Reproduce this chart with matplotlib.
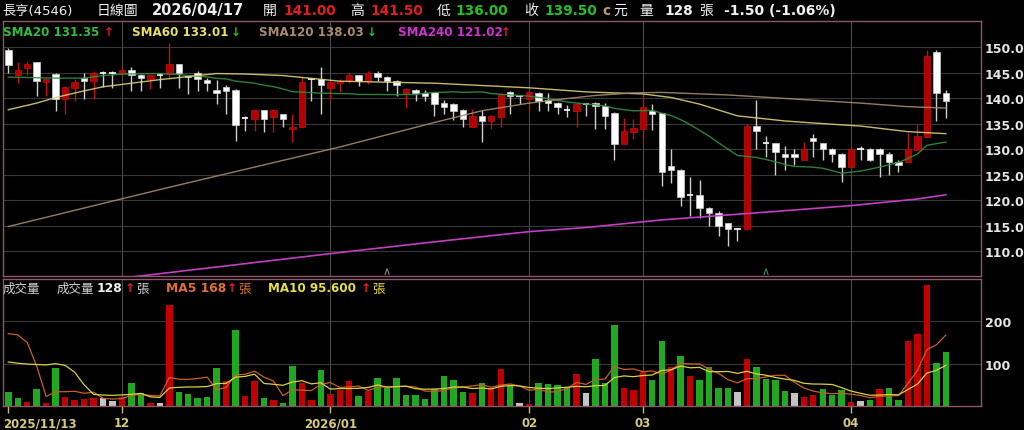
import matplotlib
matplotlib.use("Agg")
import matplotlib.pyplot as plt
import matplotlib.transforms as mtransforms
import numpy as np
import pandas as pd

plt.rcParams['font.family'] = ['DejaVu Sans', 'Noto Sans CJK TC']

# ---------------- data ----------------
opens = [149.5,144.5,145.9,147.0,143.2,144.7,139.9,141.9,144.0,143.4,
         145.0,145.0,144.8,145.5,144.5,143.8,144.6,144.7,146.7,144.3,
         145.0,143.5,141.6,142.1,141.6,136.0,135.8,137.6,136.2,136.8,
         133.9,134.4,143.8,143.8,141.9,143.0,143.4,144.5,143.4,145.0,
         144.1,143.4,140.9,141.6,140.9,141.1,139.0,138.9,137.6,134.4,
         136.5,135.4,136.3,141.1,140.4,139.9,140.9,139.6,139.0,137.6,
         137.5,138.9,139.0,138.5,137.0,131.0,133.4,133.9,137.5,137.0,
         126.6,125.9,121.0,121.0,118.5,117.5,115.4,114.4,114.4,134.5,
         131.2,131.1,129.0,129.0,127.9,132.1,131.1,130.0,129.0,126.5,
         130.0,130.0,130.0,129.0,127.5,127.4,129.8,132.4,149.0,141.0]
highs = [149.8,147.0,147.1,147.0,144.0,145.0,142.3,143.8,145.0,145.2,
         145.2,145.3,145.8,146.1,144.8,144.8,145.0,150.8,146.7,144.5,
         145.2,144.0,143.6,142.5,141.8,136.5,137.6,137.6,137.8,136.8,
         136.8,144.1,144.0,146.0,143.3,143.8,145.0,144.6,145.2,145.2,
         144.3,143.6,142.0,141.8,141.6,141.2,139.6,139.0,137.8,137.9,
         137.6,136.7,141.0,141.3,140.6,141.3,141.1,140.9,139.2,138.7,
         139.1,139.0,139.2,139.0,137.2,136.1,135.9,140.5,138.8,137.1,
         130.0,126.0,124.6,123.9,118.6,117.8,115.5,114.5,134.9,139.6,
         132.5,131.2,130.5,130.0,131.4,132.9,131.2,130.2,129.2,130.1,
         130.5,130.2,130.2,129.4,127.9,133.1,134.9,149.5,149.5,141.5]
lows = [145.0,143.0,144.5,140.4,140.4,137.5,136.8,139.4,139.9,139.9,
        142.1,141.9,144.6,141.4,141.4,141.7,141.9,143.8,141.9,140.7,
        141.4,141.4,138.8,136.8,131.6,133.5,133.5,133.3,133.3,134.4,
        131.4,134.4,139.4,136.8,139.9,141.1,143.0,142.3,142.8,143.3,
        141.4,140.4,138.1,139.4,139.4,136.4,136.8,135.6,134.3,134.4,
        131.4,133.9,134.4,136.8,138.8,137.5,137.5,137.5,136.8,136.3,
        134.4,136.4,133.9,133.9,127.9,131.0,132.0,131.6,133.7,122.8,
        123.3,118.9,116.9,116.5,115.0,112.9,111.0,111.9,114.4,130.0,
        128.4,125.0,125.9,126.9,127.9,128.4,127.9,127.4,123.5,126.3,
        127.9,127.7,124.6,125.0,125.4,127.4,129.8,132.4,135.4,136.0]
closes = [146.5,145.5,146.6,143.4,143.8,139.9,142.1,143.1,143.4,145.0,
          145.0,145.0,145.5,144.5,143.9,144.6,144.6,146.7,144.9,144.1,
          143.8,142.9,140.9,141.4,134.8,136.0,137.6,135.8,137.6,135.8,
          134.4,143.1,143.8,142.5,143.1,143.4,144.5,143.4,145.0,144.1,
          143.4,142.5,141.7,140.9,140.4,138.9,138.3,137.5,135.8,136.4,
          135.5,136.5,140.7,140.4,140.4,141.1,139.4,139.0,138.3,137.6,
          138.9,138.9,138.5,136.4,131.0,133.5,134.1,138.2,136.9,125.4,
          125.9,120.5,121.0,118.4,117.5,114.9,114.4,114.4,134.5,133.5,
          131.2,129.5,128.4,128.4,130.0,131.5,130.0,129.0,126.5,130.0,
          130.0,127.9,129.0,127.5,126.9,130.0,132.5,148.2,141.0,139.5]
prev_close = 147.0
volumes = [34,20,10,41,7,90,21,15,17,20,18,12,21,54,31,7,6,239,33,29,
           18,22,90,59,179,24,59,20,13,6,94,54,15,86,28,37,60,24,35,65,
           42,65,26,26,17,40,72,61,34,30,55,41,87,47,6,4,55,53,50,45,
           76,31,112,54,192,43,37,80,62,154,92,117,72,62,91,43,43,34,112,91,
           63,62,35,31,22,26,41,25,37,10,11,15,41,43,13,154,169,285,102,128]

# moving-average readings (index, value)
sma20_early_idx = [0, 5, 8, 10, 12, 16, 18]
sma20_early_val = [144.1, 143.9, 143.9, 144.4, 144.7, 144.8, 144.6]
sma60_idx = [0,3,5,8,10,13,16,19,22,25,29,35,45,55,61,67,70,73,77,82,85,90,95,99]
sma60_val = [137.7,139.0,140.1,141.4,142.2,142.9,143.6,144.2,144.8,144.7,144.4,143.3,
             142.9,142.0,141.2,140.8,140.1,138.8,136.5,135.5,135.1,134.5,133.4,133.01]
sma120_idx = [0,17,35,45,50,55,59,62,66,69,76,83,90,95,99]
sma120_val = [114.8,122.5,130.4,135.2,137.5,139.0,139.9,140.5,141.0,141.1,140.6,139.8,
              139.0,138.3,138.03]
sma240_idx = [13,24,35,45,55,61,69,82,89,96,99]
sma240_val = [104.9,107.3,109.7,111.8,113.8,114.6,116.1,117.9,118.9,120.2,121.02]
volma5_early = [171, 168, 150, 94]
volma10_early = [104, 101, 99, 98, 97, 100, 96, 80, 50]

date_tick_idx = [0, 12, 34, 55, 67, 89]
date_tick_lbl = ['2025/11/13', '12', '2026/01', '02', '03', '04']
signal_idx = [40, 80]
price_ticks = [110, 115, 120, 125, 130, 135, 140, 145, 150]
vol_ticks = [100, 200]

# ---------------- figure ----------------
W, H = 1024, 431
fig = plt.figure(figsize=(W / 100, H / 100), dpi=100, facecolor='black')

def px_axes(left, top, right, bottom):
    return fig.add_axes([left / W, 1 - bottom / H, (right - left) / W, (bottom - top) / H])

axp = px_axes(3, 22, 980.5, 277)
axv = px_axes(3, 280, 980.5, 407)

SPINE = '#8a5868'
GRID = '#383838'
for ax in (axp, axv):
    ax.set_facecolor('black')
    for s in ax.spines.values():
        s.set_color(SPINE)
        s.set_linewidth(1.0)
    ax.set_xlim(-0.56, 102.66)

n = len(closes)
x = np.arange(n)
o = np.array(opens); c = np.array(closes); hi = np.array(highs); lo = np.array(lows)

# grid
axp.set_ylim(105.1, 155.1)
for t in price_ticks:
    axp.axhline(t, color=GRID, lw=0.8, zorder=0)
for t in vol_ticks:
    axv.axhline(t, color=GRID, lw=0.8, zorder=0)
for t in date_tick_idx[1:]:
    axp.axvline(t, color='#4a4a4a', lw=0.8, zorder=0)
    axv.axvline(t, color='#4a4a4a', lw=0.8, zorder=0)

# candles
RED = '#b30000'
BW = 0.68
for i in range(n):
    if c[i] > o[i]:
        col, wcol = RED, '#c01010'
    else:
        col, wcol = 'white', '#cfcfcf'
    axp.vlines(x[i], lo[i], hi[i], color=wcol, lw=1.0, zorder=2)
    if abs(c[i] - o[i]) < 1e-9:
        axp.hlines(o[i], x[i] - BW / 2, x[i] + BW / 2, color='white', lw=1.2, zorder=2)
    else:
        axp.bar(x[i], abs(c[i] - o[i]), bottom=min(o[i], c[i]), width=BW,
                color=col, edgecolor=wcol, linewidth=0.5, zorder=2)

# moving averages
sma20 = pd.Series(closes).rolling(20).mean()
s20x = sma20_early_idx + list(range(19, n))
s20y = sma20_early_val + list(sma20.iloc[19:])
axp.plot(s20x, s20y, color='#2f8f40', lw=1.0, zorder=3, alpha=0.9)
axp.plot(sma60_idx, sma60_val, color='#d8d078', lw=1.0, zorder=3, alpha=0.9)
axp.plot(sma120_idx, sma120_val, color='#a58c6c', lw=1.0, zorder=3, alpha=0.9)
axp.plot(sma240_idx, sma240_val, color='#c23ec2', lw=1.2, zorder=3)

# signal marks
tb = mtransforms.blended_transform_factory(axp.transData, axp.transAxes)
for k, si in enumerate(signal_idx):
    axp.text(si, 0.0, '\u2227', transform=tb, ha='center', va='bottom',
             color=['#a09070', '#2fa040'][k], fontsize=8)

# price axis labels
axp.yaxis.tick_right()
axp.set_yticks(price_ticks)
axp.set_yticklabels([f'{t:.1f}' for t in price_ticks])
axp.tick_params(axis='y', length=0, pad=3, labelsize=9, labelcolor='#e6e6e6')
for lab in axp.get_yticklabels():
    lab.set_fontweight('bold')
axp.set_xticks([])

# volume
vol = np.array(volumes, dtype=float)
prevs = np.concatenate([[prev_close], c[:-1]])
vcols = ['#c00000' if c[i] > prevs[i] else ('#20a820' if c[i] < prevs[i] else '#c4c4c4')
         for i in range(n)]
axv.bar(x, vol, width=BW, color=vcols, zorder=2)
axv.set_ylim(0, 300)
ma5 = pd.Series(volumes).rolling(5).mean()
ma10 = pd.Series(volumes).rolling(10).mean()
axv.plot(list(range(n)), volma5_early + list(ma5.iloc[4:]), color='#c8602a', lw=0.9, zorder=3)
axv.plot(list(range(n)), volma10_early + list(ma10.iloc[9:]), color='#d8d040', lw=0.9, zorder=3)
axv.yaxis.tick_right()
axv.set_yticks(vol_ticks)
axv.set_yticklabels([str(t) for t in vol_ticks])
axv.tick_params(axis='y', length=0, pad=3, labelsize=9, labelcolor='#e6e6e6')
for lab in axv.get_yticklabels():
    lab.set_fontweight('bold')
axv.set_xticks(date_tick_idx)
axv.set_xticklabels([])
axv.tick_params(axis='x', length=5, width=1, color='#c8bc70', direction='out')
tbv = mtransforms.blended_transform_factory(axv.transData, axv.transAxes)
DCOL = '#d6ca7a'
for k, (ti, tl) in enumerate(zip(date_tick_idx, date_tick_lbl)):
    if k == 0:
        axv.text(-0.56, -0.13, tl, transform=tbv, ha='left', va='center',
                 color=DCOL, fontsize=8.5, fontweight='bold')
    else:
        axv.text(ti, -0.13, tl, transform=tbv, ha='center', va='center',
                 color=DCOL, fontsize=8.5, fontweight='bold')

# ---------------- texts ----------------
def ftxt(xp, yp, s, color, size=10, weight='normal'):
    fig.text(xp / W, 1 - yp / H, s, color=color, fontsize=size, fontweight=weight,
             ha='left', va='center')

WHITE = '#f0f0f0'
HRED = '#e41c1c'
HGRN = '#22c022'
ftxt(2, 11, '長亨(4546)', WHITE, 9.5)
ftxt(97, 11, '日線圖', WHITE, 10)
ftxt(152, 11, '2026/04/17', WHITE, 10.5, 'bold')
ftxt(263, 11, '開', WHITE, 10)
ftxt(283, 11, '141.00', HRED, 9.8, 'bold')
ftxt(350, 11, '高', WHITE, 10)
ftxt(370, 11, '141.50', HRED, 9.8, 'bold')
ftxt(437, 11, '低', WHITE, 10)
ftxt(455, 11, '136.00', HGRN, 9.8, 'bold')
ftxt(524, 11, '收', WHITE, 10)
ftxt(544, 11, '139.50', HGRN, 9.8, 'bold')
ftxt(602, 11, 'c', '#b89a6a', 9.8, 'bold')
ftxt(613, 11, '元', WHITE, 10)
ftxt(639, 11, '量', WHITE, 10)
ftxt(664, 11, '128', WHITE, 9.8, 'bold')
ftxt(699, 11, '張', WHITE, 10)
ftxt(724, 11, '-1.50 (-1.06%)', WHITE, 10, 'bold')

# price legend
ftxt(3, 32, 'SMA20 131.35', '#2fbf3f', 8.6, 'bold')
ftxt(104, 32, '\u2191', HRED, 8.6, 'bold')
ftxt(132, 32, 'SMA60 133.01', '#e8e060', 8.6, 'bold')
ftxt(231, 32, '\u2193', HGRN, 8.6, 'bold')
ftxt(259, 32, 'SMA120 138.03', '#a88c6c', 8.6, 'bold')
ftxt(367, 32, '\u2193', HGRN, 8.6, 'bold')
ftxt(398, 32, 'SMA240 121.02', '#d030d0', 8.6, 'bold')
ftxt(501, 32, '\u2191', HRED, 8.6, 'bold')

# volume legend
ftxt(3, 289, '成交量', '#d0d0d0', 9)
ftxt(57, 289, '成交量', '#d0d0d0', 9)
ftxt(97, 289, '128', WHITE, 8.8, 'bold')
ftxt(125, 289, '\u2191', HRED, 8.8, 'bold')
ftxt(136, 289, '張', '#d0d0d0', 9)
ftxt(166, 289, 'MA5 168', '#e07030', 8.8, 'bold')
ftxt(227, 289, '\u2191', HRED, 8.8, 'bold')
ftxt(238, 289, '張', '#e07030', 9)
ftxt(268, 289, 'MA10 95.600', '#e8e040', 8.6, 'bold')
ftxt(361, 289, '\u2191', HRED, 8.8, 'bold')
ftxt(372, 289, '張', '#e8e040', 9)

fig.savefig('out.png', dpi=100, facecolor='black')
